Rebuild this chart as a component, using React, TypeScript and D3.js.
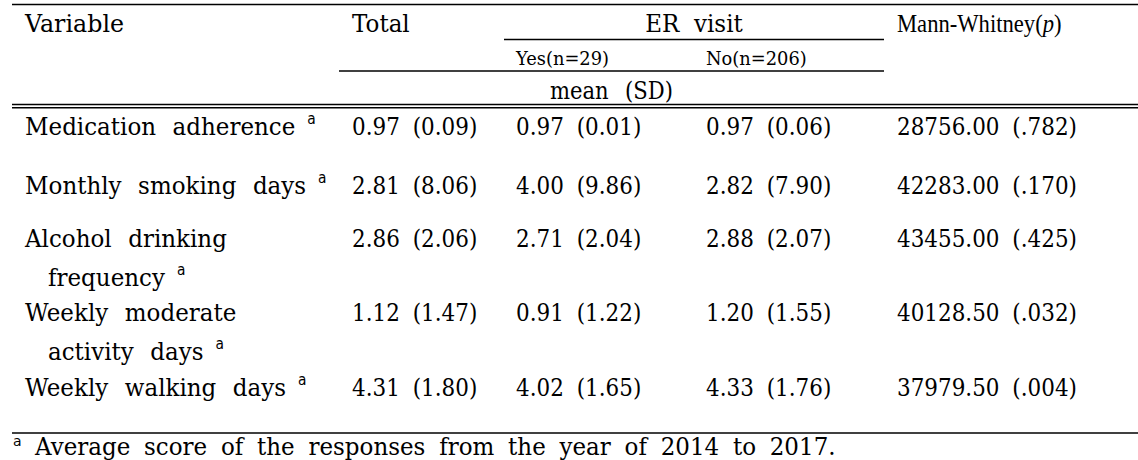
import React from "react";
import * as d3 from "d3";

// ---------- data ----------
const variableLines: string[][] = [
  ["Medication adherence"],
  ["Monthly smoking days"],
  ["Alcohol drinking", "frequency"],
  ["Weekly moderate", "activity days"],
  ["Weekly walking days"],
];
const totalMean = ["0.97", "2.81", "2.86", "1.12", "4.31"];
const totalSD = ["0.09", "8.06", "2.06", "1.47", "1.80"];
const yesMean = ["0.97", "4.00", "2.71", "0.91", "4.02"];
const yesSD = ["0.01", "9.86", "2.04", "1.22", "1.65"];
const noMean = ["0.97", "2.82", "2.88", "1.20", "4.33"];
const noSD = ["0.06", "7.90", "2.07", "1.55", "1.76"];
const mwU = ["28756.00", "42283.00", "43455.00", "40128.50", "37979.50"];
const mwP = [".782", ".170", ".425", ".032", ".004"];

const columns = ["variable", "total", "yes", "no", "mw"];
const headerTop = ["Variable", "Total", "ER visit", "Mann-Whitney"];
const subHeaders = ["Yes(n=29)", "No(n=206)"];
const unitLabel = "mean (SD)";
const footnote = "Average score of the responses from the year of 2014 to 2017.";

// ---------- layout ----------
const W = 1138;
const H = 460;
const FONT = "'DejaVu Serif', serif";
const rowBaselines = [135, 194, 247, 321, 396];
const lineGap = 38.5;

type TProps = {
  x: number;
  y: number;
  sx?: number;
  size?: number;
  ws?: number;
  anchor?: string;
  family?: string;
  children?: React.ReactNode;
};

function T({ x, y, sx = 0.92, size = 25, ws = 4, anchor = "start", family, children }: TProps) {
  return (
    <text
      transform={`translate(${x},${y}) scale(${sx},1)`}
      fontSize={size}
      textAnchor={anchor}
      fontFamily={family}
      style={{ wordSpacing: `${ws}px` }}
    >
      {children}
    </text>
  );
}

export default function App() {
  const x = d3
    .scaleOrdinal<string, number>()
    .domain(columns)
    .range([25, 352, 516, 706, 897]);
  const rowY = d3
    .scaleOrdinal<number, number>()
    .domain(d3.range(variableLines.length))
    .range(rowBaselines);

  const erLeft = 504;
  const erRight = 884;
  const subLeft = 339;

  const cell = (m: string, s: string) => `${m} (${s})`;

  return (
    <svg
      width={W}
      height={H}
      style={{ position: "absolute", left: 0, top: 0, background: "#fff" }}
      fontFamily={FONT}
    >
      <rect width={W} height={H} fill="#fff" />
      {/* rules */}
      <line x1={12} x2={W} y1={4.5} y2={4.5} stroke="#000" strokeWidth={1.6} />
      <line x1={erLeft} x2={erRight} y1={39.5} y2={39.5} stroke="#000" strokeWidth={1.3} />
      <line x1={subLeft} x2={erRight} y1={71} y2={71} stroke="#000" strokeWidth={1.3} />
      <line x1={12} x2={W} y1={104.5} y2={104.5} stroke="#000" strokeWidth={1.4} />
      <line x1={12} x2={W} y1={107.8} y2={107.8} stroke="#000" strokeWidth={1.4} />
      <line x1={12} x2={W} y1={433} y2={433} stroke="#000" strokeWidth={1.4} />

      {/* header */}
      <g fill="#000">
        <T x={x("variable")} y={32} sx={0.95}>{headerTop[0]}</T>
        <T x={x("total")} y={32}>{headerTop[1]}</T>
        <T x={(erLeft + erRight) / 2} y={32} anchor="middle" ws={8}>{headerTop[2]}</T>
        <T x={x("mw")} y={32} size={26} sx={0.87} family="'Liberation Serif', serif" ws={0}>
          {headerTop[3]}(<tspan fontStyle="italic">p</tspan>)
        </T>
        <T x={x("yes")} y={65} size={19} sx={0.94} ws={0}>{subHeaders[0]}</T>
        <T x={x("no")} y={65} size={19} sx={0.94} ws={0}>{subHeaders[1]}</T>
        <T x={(subLeft + erRight) / 2} y={99} anchor="middle" size={24} sx={0.88} ws={11}>{unitLabel}</T>
      </g>

      {/* body */}
      <g fill="#000">
        {variableLines.map((lines, i) => (
          <g key={i}>
            {lines.map((ln, j) => (
              <T key={j} x={x("variable") + (j > 0 ? 23 : 0)} y={rowY(i) + j * lineGap} ws={10}>
                {ln}
                {j === lines.length - 1 && (
                  <tspan dx={13} dy={-11} fontSize={15} fontFamily="'DejaVu Sans', sans-serif">a</tspan>
                )}
              </T>
            ))}
            <T x={x("total")} y={rowY(i)} sx={0.86} ws={7}>{cell(totalMean[i], totalSD[i])}</T>
            <T x={x("yes")} y={rowY(i)} sx={0.86} ws={7}>{cell(yesMean[i], yesSD[i])}</T>
            <T x={x("no")} y={rowY(i)} sx={0.86} ws={7}>{cell(noMean[i], noSD[i])}</T>
            <T x={x("mw")} y={rowY(i)} sx={0.86} ws={7}>{cell(mwU[i], mwP[i])}</T>
          </g>
        ))}
      </g>

      {/* footnote */}
      <g fill="#000">
        <text x={13} y={446} fontSize={14} fontFamily="'DejaVu Sans', sans-serif">a</text>
        <T x={35} y={455} ws={7}>{footnote}</T>
      </g>
    </svg>
  );
}
